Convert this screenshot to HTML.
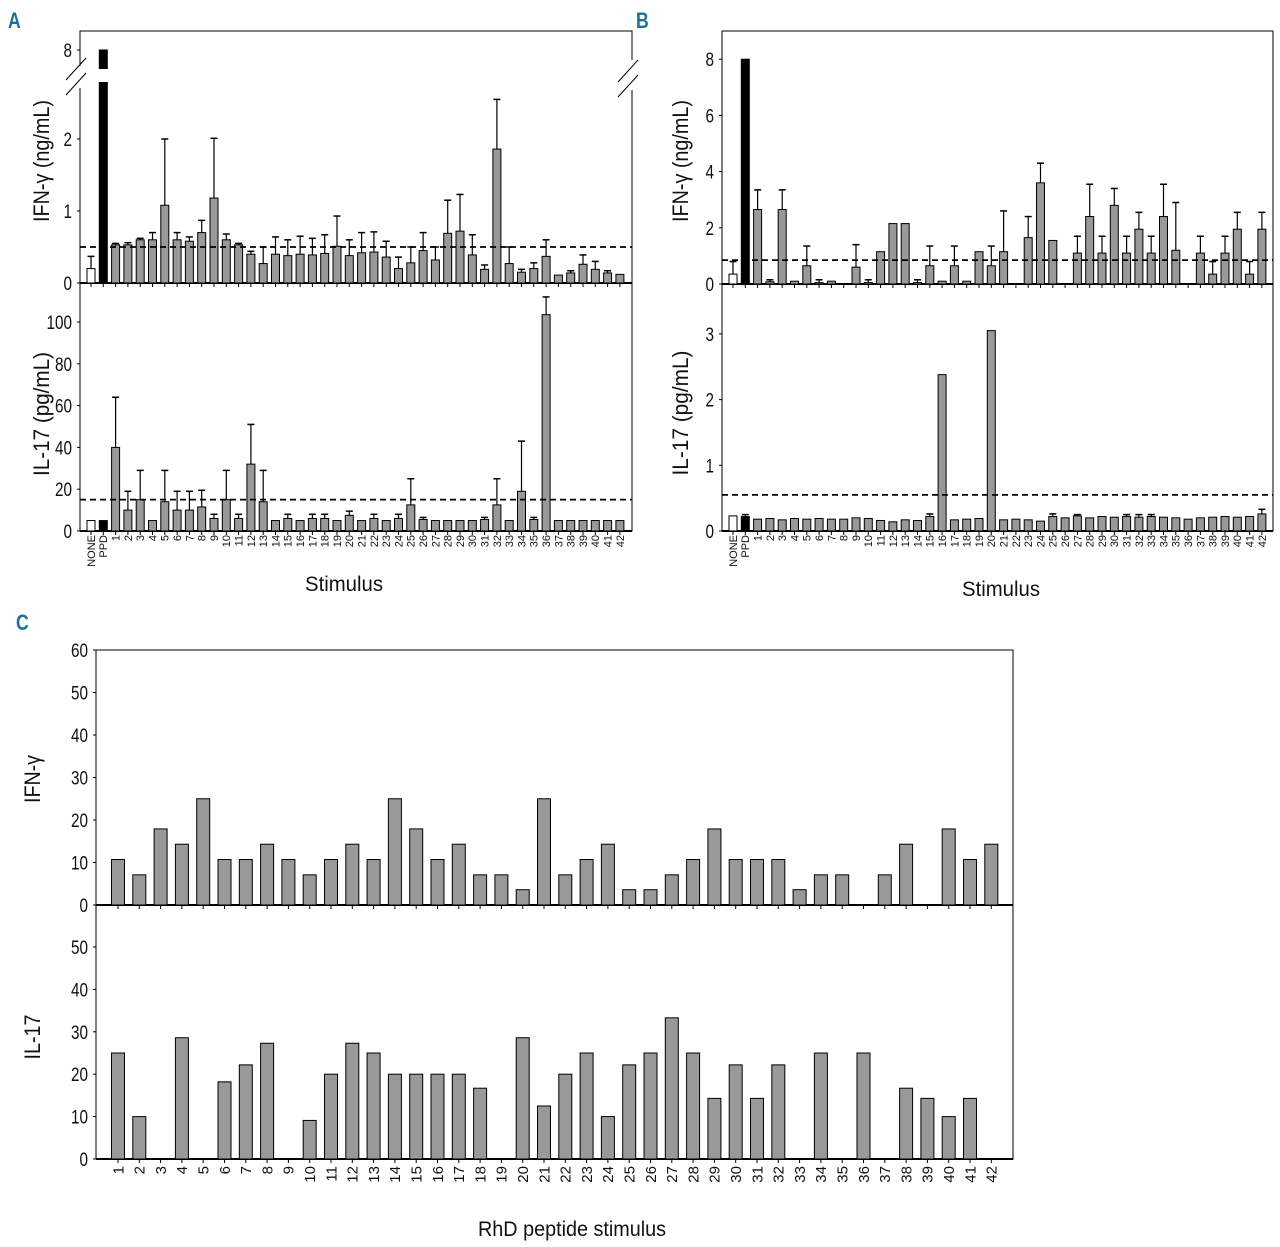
<!DOCTYPE html>
<html><head><meta charset="utf-8">
<style>
body{margin:0;background:#fff;}
svg{display:block;font-family:"Liberation Sans Narrow","Liberation Sans",sans-serif;}
.pl{font-family:"Liberation Sans",sans-serif;font-weight:bold;fill:#1f6f9b;font-size:22px;}
</style></head>
<body>
<svg id="fig" width="1280" height="1247" viewBox="0 0 1280 1247" xmlns="http://www.w3.org/2000/svg">
<text class="pl" x="8" y="28" transform="scale(0.8,1) translate(2,0)">A</text>
<text class="pl" x="795" y="28" transform="scale(0.8,1)">B</text>
<text class="pl" x="20" y="630" transform="scale(0.8,1)">C</text>
<g id="g"></g>
</svg>
<script>
// ---- data ----
const stimA = ["NONE","PPD"].concat(Array.from({length:42},(_, i)=>String(i+1)));
const cPeptides = Array.from({length:42},(_, i)=>String(i+1));
const aIfn    = [0.2,8,0.53,0.53,0.6,0.6,1.08,0.6,0.58,0.7,1.18,0.6,0.53,0.4,0.27,0.4,0.38,0.4,0.39,0.41,0.51,0.38,0.42,0.43,0.36,0.2,0.28,0.45,0.32,0.69,0.72,0.39,0.19,1.86,0.27,0.15,0.2,0.37,0.11,0.14,0.26,0.19,0.14,0.12];
const aIfnErr = [0.37,8,0.55,0.56,0.62,0.7,2.0,0.7,0.64,0.87,2.01,0.68,0.55,0.44,0.5,0.64,0.6,0.65,0.62,0.67,0.93,0.6,0.7,0.71,0.58,0.36,0.5,0.7,0.5,1.15,1.23,0.67,0.25,2.55,0.5,0.19,0.28,0.6,0.11,0.17,0.39,0.3,0.17,0.12];
const aIl17    = [5,5,40,10,15,5,14,10,10,11.5,6,15,6,32,14,5,6,5,6,6,5,7.5,5,6,5,6,12.5,5.5,5,5,5,5,5.5,12.5,5,19,5.5,103.5,5,5,5,5,5,5];
const aIl17Err = [5,5,64,19,29,5,29,19,19,19.5,8,29,8,51,29,5,8,5,8,8,5,9.5,5,8,5,8,25,6.5,5,5,5,5,6.5,25,5,43,6.5,112,5,5,5,5,5,5];
const bIfn    = [0.35,8,2.65,0.08,2.65,0.1,0.65,0.05,0.1,0,0.6,0.05,1.15,2.15,2.15,0.05,0.65,0.1,0.65,0.1,1.15,0.65,1.15,0,1.65,3.6,1.55,0,1.1,2.4,1.1,2.8,1.1,1.95,1.1,2.4,1.2,0,1.1,0.35,1.1,1.95,0.35,1.95];
const bIfnErr = [0.8,8,3.35,0.15,3.35,0.1,1.35,0.15,0.1,0,1.4,0.15,1.15,2.15,2.15,0.15,1.35,0.1,1.35,0.1,1.15,1.35,2.6,0,2.4,4.3,1.55,0,1.7,3.55,1.7,3.4,1.7,2.55,1.7,3.55,2.9,0,1.7,0.8,1.7,2.55,0.8,2.55];
const bIl17    = [0.23,0.22,0.18,0.19,0.17,0.19,0.18,0.19,0.18,0.18,0.2,0.19,0.16,0.14,0.17,0.16,0.22,2.38,0.17,0.18,0.19,3.05,0.17,0.18,0.17,0.15,0.22,0.2,0.23,0.2,0.22,0.21,0.22,0.21,0.22,0.21,0.2,0.18,0.2,0.21,0.22,0.21,0.22,0.26];
const bIl17Err = [0.23,0.25,0.18,0.19,0.17,0.19,0.18,0.19,0.18,0.18,0.2,0.19,0.16,0.14,0.17,0.16,0.26,2.38,0.17,0.18,0.19,3.05,0.17,0.18,0.17,0.15,0.26,0.2,0.25,0.2,0.22,0.21,0.25,0.25,0.25,0.21,0.2,0.18,0.2,0.21,0.22,0.21,0.22,0.33];
const cIfn  = [10.7,7.1,17.9,14.3,25,10.7,10.7,14.3,10.7,7.1,10.7,14.3,10.7,25,17.9,10.7,14.3,7.1,7.1,3.6,25,7.1,10.7,14.3,3.6,3.6,7.1,10.7,17.9,10.7,10.7,10.7,3.6,7.1,7.1,0,7.1,14.3,0,17.9,10.7,14.3];
const cIl17 = [25,10,0,28.6,0,18.2,22.2,27.3,0,9.1,20,27.3,25,20,20,20,20,16.7,0,28.6,12.5,20,25,10,22.2,25,33.3,25,14.3,22.2,14.3,22.2,0,25,0,25,0,16.7,14.3,10,14.3,0];
const aIfnTicks = [0,1,2,8];
const aIl17Ticks = [0,20,40,60,80,100];
const bIfnTicks = [0,2,4,6,8];
const bIl17Ticks = [0,1,2,3];
const cTicksTop = [0,10,20,30,40,50,60];
const cTicksBot = [0,10,20,30,40,50];
const thrAIfn = 0.5, thrAIl17 = 15, thrBIfn = 0.85, thrBIl17 = 0.55;

const NS="http://www.w3.org/2000/svg";
const G=document.getElementById('g');
function mk(tag,at,parent){const e=document.createElementNS(NS,tag);for(const k in at)e.setAttribute(k,at[k]);(parent||G).appendChild(e);return e;}
function line(x1,y1,x2,y2,w,dash){const l=mk('line',{x1,y1,x2,y2,stroke:'#000','stroke-width':w||1});if(dash)l.setAttribute('stroke-dasharray',dash);return l;}
function txt(x,y,s,size,anchor,rot,len){const t=mk('text',{x,y,'font-size':size,'text-anchor':anchor||'middle',fill:'#111'});if(rot)t.setAttribute('transform',`rotate(-90 ${x} ${y})`);if(len){t.setAttribute('textLength',len);t.setAttribute('lengthAdjust','spacingAndGlyphs');}t.textContent=s;return t;}

function panel(o){
  const y=v=>o.y0-v*o.k;
  const f=mk('rect',{x:o.left,y:o.top,width:o.right-o.left,height:o.y0-o.top,fill:'none',stroke:'#000','stroke-width':1});
  
  
  line(o.left,o.y0,o.right,o.y0,2);
  o.ticks.forEach(t=>{
    const yy=t===8&&o.breakAxis?o.y8:y(t);
    line(o.left-3,yy,o.left,yy,1);
    const s=String(t);
    const tl=txt(o.left-8,yy+7,s,19,'end',false,s.length*8.5);
    
    
  });
  o.vals.forEach((v,i)=>{
    const x=o.x0+i*o.dx;
    if(o.xticks) line(x,o.y0,x,o.y0+4,1);
    if(v<=0) return;
    let top=y(v);
    if(o.breakAxis && v>=8) top=o.y8;
    let fill='#999';
    if(o.hasCtrl&&i===0) fill='#fff';
    if(o.hasCtrl&&i===1) fill='#000';
    const b=mk('rect',{x:x-o.bw/2,y:top,width:o.bw,height:o.y0-top,fill,stroke:'#000','stroke-width':1});
    
    
    if(o.breakAxis && v>=8) mk('rect',{x:x-o.bw/2-2,y:o.brk1,width:o.bw+4,height:o.brk2-o.brk1,fill:'#fff'});
    if(o.err){const e=o.err[i];if(e>v&&!(o.breakAxis&&v>=8)){const ye=y(e);line(x,top,x,ye,1.2);line(x-3.5,ye,x+3.5,ye,1.5);}}
  });
  if(o.thr!=null){const d=line(o.left,y(o.thr),o.right,y(o.thr),1.8,'6,4');}
  const yt=txt(o.ytx,o.ytc||(o.top+o.y0)/2,o.ytitle,o.ytsize||22,'middle',true,o.ytlen);
  
  
}
function xlabels(x0,dx,labels,ytop,size,name){
  labels.forEach((s,i)=>{const t=txt(x0+i*dx+ size*0.35,ytop,s,size,'end',true);
    
    });
}

// Panel A
panel({name:'a-ifn',left:80,right:632,top:31,y0:283,k:72,ticks:aIfnTicks,vals:aIfn,err:aIfnErr,labels:stimA,x0:91,dx:12.3,bw:8,thr:thrAIfn,hasCtrl:true,breakAxis:true,y8:50,brk1:69,brk2:82,xticks:true,ytitle:'IFN-γ (ng/mL)',ytx:49,ytc:161,ytlen:122});
panel({name:'a-il17',left:80,right:632,top:283,y0:531,k:2.09,ticks:aIl17Ticks,vals:aIl17,err:aIl17Err,labels:stimA,x0:91,dx:12.3,bw:8,thr:thrAIl17,hasCtrl:true,xticks:true,ytitle:'IL-17 (pg/mL)',ytx:49,ytc:414,ytlen:124});
mk('rect',{x:60,y:66,width:30,height:22,fill:'#fff'});
line(66,80,86,58,1);line(66,95,86,73,1);
mk('rect',{x:622,y:60,width:20,height:30,fill:'#fff'});
line(618,82,638,60,1);line(618,97,638,75,1);
xlabels(91,12.3,stimA,535,11,'a-x-tick-label');
txt(344,591,'Stimulus',21,'middle',false,78);

// Panel B
panel({name:'b-ifn',left:722,right:1273,top:31,y0:284,k:28.1,ticks:bIfnTicks,vals:bIfn,err:bIfnErr,labels:stimA,x0:733,dx:12.3,bw:8,thr:thrBIfn,hasCtrl:true,xticks:true,ytitle:'IFN-γ (ng/mL)',ytx:688,ytc:161,ytlen:122});
panel({name:'b-il17',left:722,right:1273,top:284,y0:531,k:65.7,ticks:bIl17Ticks,vals:bIl17,err:bIl17Err,labels:stimA,x0:733,dx:12.3,bw:8,thr:thrBIl17,hasCtrl:true,xticks:true,ytitle:'IL-17 (pg/mL)',ytx:688,ytc:413,ytlen:125});
xlabels(733,12.3,stimA,535,11,'b-x-tick-label');
txt(1001,596,'Stimulus',21,'middle',false,78);

// Panel C
panel({name:'c-ifn',left:96,right:1013,top:650,y0:905,k:4.25,ticks:cTicksTop,vals:cIfn,labels:cPeptides,x0:118,dx:21.3,bw:13,hasCtrl:false,xticks:true,ytitle:'IFN-γ',ytx:40,ytc:779,ytlen:48});
panel({name:'c-il17',left:96,right:1013,top:905,y0:1159,k:4.24,ticks:cTicksBot,vals:cIl17,labels:cPeptides,x0:118,dx:21.3,bw:13,hasCtrl:false,xticks:true,ytitle:'IL-17',ytx:40,ytc:1037,ytlen:45});
xlabels(118,21.3,cPeptides,1166,15,'c-x-tick-label');
txt(572,1236,'RhD peptide stimulus',21,'middle',false,188);
</script>
</body></html>
